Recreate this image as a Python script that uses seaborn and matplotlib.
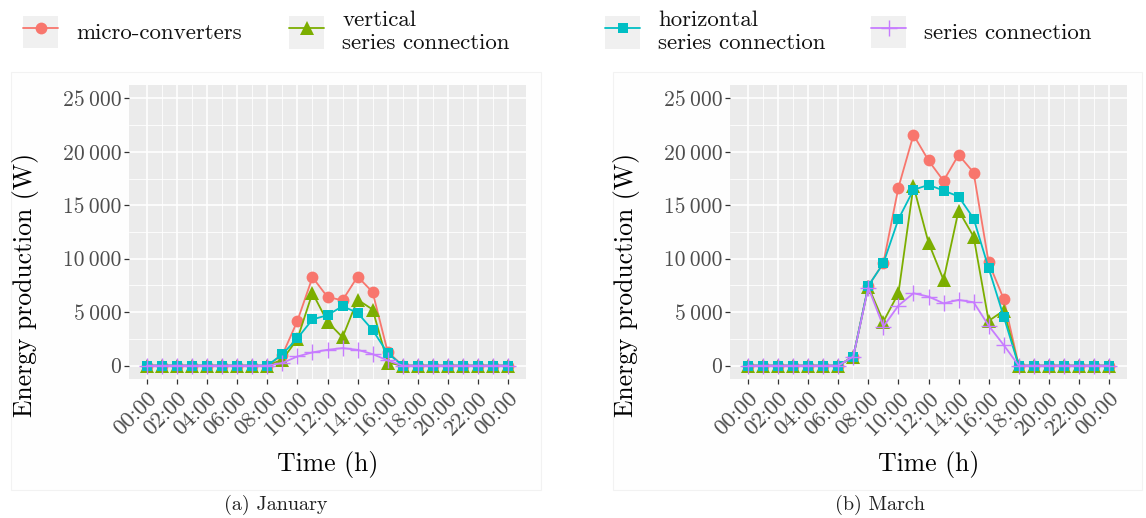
import matplotlib
matplotlib.use("Agg")
import matplotlib.pyplot as plt
from matplotlib.patches import Rectangle
from matplotlib.lines import Line2D
from matplotlib.ticker import FixedLocator
import numpy as np
import pandas as pd
import seaborn as sns

# Hourly energy production (W), 00:00 .. 24:00
hours = list(range(25))

series_names = ["micro-converters", "vertical\nseries connection",
                "horizontal\nseries connection", "series connection"]

jan_micro = [0, 0, 0, 0, 0, 0, 0, 0, 0, 1000, 4190, 8270, 6420, 6110, 8330, 6880, 1300,
             0, 0, 0, 0, 0, 0, 0, 0]
jan_vertical = [0, 0, 0, 0, 0, 0, 0, 0, 0, 560, 2500, 6800, 4100, 2650, 6170, 5250, 280,
                0, 0, 0, 0, 0, 0, 0, 0]
jan_horizontal = [0, 0, 0, 0, 0, 0, 0, 0, 0, 1080, 2560, 4320, 4720, 5560, 4940, 3330, 1170,
                  0, 0, 0, 0, 0, 0, 0, 0]
jan_series = [0, 0, 0, 0, 0, 0, 0, 0, 0, 250, 860, 1240, 1480, 1640, 1480, 1080, 490,
              0, 0, 0, 0, 0, 0, 0, 0]

mar_micro = [0, 0, 0, 0, 0, 0, 0, 850, 7460, 9600, 16660, 21590, 19190, 17280, 19720, 18060,
             9650, 6240, 0, 0, 0, 0, 0, 0, 0]
mar_vertical = [0, 0, 0, 0, 0, 0, 0, 850, 7400, 4120, 6770, 16800, 11510, 8020, 14510, 12070,
                4180, 5150, 0, 0, 0, 0, 0, 0, 0]
mar_horizontal = [0, 0, 0, 0, 0, 0, 0, 850, 7460, 9580, 13700, 16440, 16910, 16380, 15820, 13760,
                  9110, 4590, 0, 0, 0, 0, 0, 0, 0]
mar_series = [0, 0, 0, 0, 0, 0, 0, 850, 7300, 3650, 5620, 6770, 6460, 5830, 6150, 5930,
              3740, 1930, 0, 0, 0, 0, 0, 0, 0]

month_captions = ["(a) January", "(b) March"]
x_ticks = list(range(0, 25, 2))
x_tick_labels = [f"{h % 24:02d}:00" for h in x_ticks]
y_ticks = [0, 5000, 10000, 15000, 20000, 25000]
y_tick_labels = ["0", "5\u2009000", "10\u2009000", "15\u2009000", "20\u2009000", "25\u2009000"]

colors = ["#F8766D", "#7CAE00", "#00BFC4", "#C77CFF"]
markers = ["o", "^", "s", "+"]
msizes = [8.5, 10, 7.6, 11]

sns.set_theme(style="darkgrid", rc={"axes.facecolor": "#EBEBEB", "grid.color": "white"})
plt.rcParams["font.family"] = ["cmr10", "DejaVu Serif"]
plt.rcParams["axes.formatter.use_mathtext"] = True

fig = plt.figure(figsize=(11.46, 5.18), dpi=100)
W, H = 1146, 518

def fx(px):
    return px / W

def fy(py):
    return 1 - py / H

# faint plot-background boxes behind each panel
for x0, x1 in [(11, 541), (613, 1142)]:
    fig.patches.append(Rectangle((fx(x0), fy(490)), fx(x1) - fx(x0), fy(72) - fy(490),
                                 transform=fig.transFigure, facecolor="#FEFEFE",
                                 edgecolor="#F2F2F2", lw=0.8, zorder=-5))

panel_lefts = [129, 730]
panel_w = 397
months = [
    [jan_micro, jan_vertical, jan_horizontal, jan_series],
    [mar_micro, mar_vertical, mar_horizontal, mar_series],
]

for i, (left, data) in enumerate(zip(panel_lefts, months)):
    ax = fig.add_axes([fx(left), fy(379), panel_w / W, fy(85) - fy(379)])
    ax.set_zorder(2)
    df = pd.DataFrame({"hour": hours * 4,
                       "power": sum(data, []),
                       "config": sum([[n] * len(hours) for n in series_names], [])})
    for name, c, m, ms in zip(series_names, colors, markers, msizes):
        sub = df[df["config"] == name]
        filled = m != "+"
        sns.lineplot(data=sub, x="hour", y="power", ax=ax, color=c, marker=m,
                     markersize=ms, linewidth=1.3,
                     markeredgewidth=0 if filled else 1.0,
                     markeredgecolor=c, legend=False)
    ax.set_xlim(-1.2, 25.2)
    ax.set_ylim(-1250, 26250)
    ax.set_xticks(x_ticks)
    ax.set_xticklabels(x_tick_labels, rotation=45, ha="right", va="top",
                       rotation_mode="anchor", fontsize=16.5, color="#4D4D4D")
    ax.set_yticks(y_ticks)
    ax.set_yticklabels(y_tick_labels, fontsize=15.5, color="#4D4D4D")
    ax.xaxis.set_minor_locator(FixedLocator(list(range(1, 24, 2))))
    ax.yaxis.set_minor_locator(FixedLocator([2500, 7500, 12500, 17500, 22500]))
    ax.grid(which="major", color="white", linewidth=1.2)
    ax.grid(which="minor", color="white", linewidth=0.6)
    ax.tick_params(which="major", length=3.5, width=0.9, color="#333333",
                   bottom=True, left=True, pad=2)
    ax.tick_params(axis="x", pad=3)
    ax.tick_params(which="minor", length=0)
    for s in ax.spines.values():
        s.set_visible(False)
    ax.set_xlabel("")
    ax.set_ylabel("")
    cx = left + panel_w / 2
    fig.text(fx(cx), fy(465), "Time (h)", ha="center", va="center", fontsize=18.5,
             color="black")
    fig.text(fx(left - 103), fy(285), "Energy production (W)", ha="center", va="center",
             rotation=90, fontsize=18.5, color="black")
    fig.text(fx([276, 880][i]), fy(505), month_captions[i], ha="center", va="center",
             fontsize=14.5, color="#222222")

# legend across the top, one entry per key
key_lefts = [12, 278, 594, 860]
for name, c, m, ms, kx in zip(series_names, colors, markers, msizes, key_lefts):
    bg = Rectangle((0, 0), 1, 1, facecolor="#F0F0F0", edgecolor="none")
    ln = Line2D([], [], color=c, marker=m, markersize=ms, lw=1.3,
                markeredgewidth=0 if m != "+" else 1.0, markeredgecolor=c)
    leg = fig.legend(handles=[(bg, ln)], labels=[name], loc="center left",
                     bbox_to_anchor=(fx(kx), fy(32)), frameon=False, borderpad=0,
                     handlelength=1.5, handleheight=1.8, handletextpad=0.8,
                     fontsize=16.5, labelspacing=0.2)
    for t in leg.get_texts():
        t.set_color("#111111")

fig.savefig("out.png", dpi=100, facecolor="white")
